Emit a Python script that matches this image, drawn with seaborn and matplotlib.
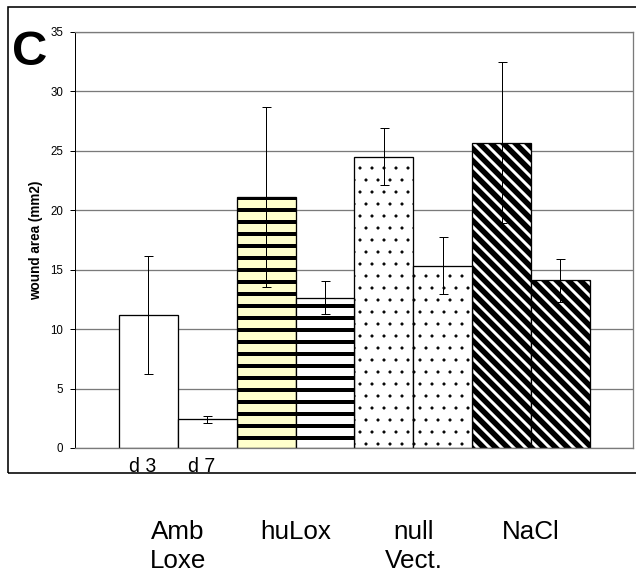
import pandas as pd
import matplotlib.pyplot as plt
import matplotlib.transforms as mtransforms
from matplotlib.patches import Rectangle
import seaborn as sns

# datos (area de herida en mm2, dia 3 y dia 7)
grupos = ["Amb\nLoxe", "huLox", "null\nVect.", "NaCl"]
dias = ["d 3", "d 7"]
area_d3 = [11.2, 21.1, 24.5, 25.7]
area_d7 = [2.4, 12.65, 15.35, 14.1]
error_d3 = [4.95, 7.55, 2.4, 6.8]
error_d7 = [0.33, 1.4, 2.38, 1.83]
marcas_y = [0, 5, 10, 15, 20, 25, 30, 35]

# estilos de cada barra (orden: grupo, dia)
rellenos = ["white", "white", "#ffffcc", "white", "white", "white", "white", "white"]
tramas = [None, None, "-", "-", ".", ".", "\\\\", "\\\\"]
grosor_trama = [1, 1, 4, 4, 0.6, 0.6, 5.5, 5.5]

sns.set_style("white")
plt.rcParams["font.family"] = ["Liberation Sans", "DejaVu Sans"]
plt.rcParams["hatch.color"] = "black"
plt.rcParams["text.color"] = "black"

datos = pd.DataFrame({
    "grupo": grupos * 2,
    "dia": [dias[0]] * 4 + [dias[1]] * 4,
    "area": area_d3 + area_d7,
})

W, H = 636, 574
fig = plt.figure(figsize=(W / 72, H / 72), dpi=72)
ax = fig.add_axes([75 / W, (H - 448) / H, 558 / W, 416 / H])

sns.barplot(data=datos, x="grupo", y="area", hue="dia", order=grupos,
            hue_order=dias, errorbar=None, width=1.0,
            palette=["white", "white"], edgecolor="black", linewidth=1.3,
            legend=False, ax=ax)

barras = sorted(ax.patches, key=lambda p: p.get_x())
errores = [e for par in zip(error_d3, error_d7) for e in par]
for barra, color, trama, gt, err in zip(barras, rellenos, tramas, grosor_trama, errores):
    barra.set_facecolor(color)
    barra.set_hatch(trama)
    if hasattr(barra, "set_hatch_linewidth"):
        barra.set_hatch_linewidth(gt)
    xc = barra.get_x() + barra.get_width() / 2
    ax.errorbar(xc, barra.get_height(), yerr=err, color="black", lw=1,
                capsize=4.5, capthick=1, zorder=5)

ax.set_xlim(-0.874, 3.866)
ax.set_ylim(0, 35)
ax.set_yticks(marcas_y)
ax.set_xticks([])
ax.set_xlabel("")
ax.set_ylabel("wound area (mm2)", fontsize=13.5, fontweight="bold", color="black")
ax.yaxis.set_label_coords(-0.058, 0.5)
ax.tick_params(axis="y", left=True, length=5, width=1, color="black",
               pad=7, labelsize=11.5, labelcolor="black")
ax.set_axisbelow(True)
ax.yaxis.grid(True, color="#7a7a7a", lw=1.3)
for lado in ["top", "right", "bottom"]:
    ax.spines[lado].set_color("#7a7a7a")
    ax.spines[lado].set_linewidth(1.3)
ax.spines["left"].set_color("black")
ax.spines["left"].set_linewidth(1)

# etiquetas de dia bajo el primer grupo
abajo = mtransforms.blended_transform_factory(ax.transData, ax.transAxes)
for barra, dia in zip(barras[:2], dias):
    ax.text(barra.get_x() + barra.get_width() / 2 - 0.05, -0.057, dia,
            transform=abajo, ha="center", va="baseline", fontsize=19.5)

# nombres de los grupos fuera del recuadro
fig_x = mtransforms.blended_transform_factory(ax.transData, fig.transFigure)
for i, g in enumerate(grupos):
    ax.text(i, (H - 520) / H, g, transform=fig_x, ha="center", va="top",
            fontsize=26, linespacing=1.28, clip_on=False)

fig.text(12 / W, (H - 65) / H, "C", fontsize=49, fontweight="bold",
         ha="left", va="baseline")

# recuadro exterior
fig.add_artist(Rectangle((7.5 / W, (H - 472.5) / H), 1.05, 465 / H,
                         transform=fig.transFigure, fill=False,
                         ec="black", lw=1.6))

fig.savefig("out.png", dpi=72)
